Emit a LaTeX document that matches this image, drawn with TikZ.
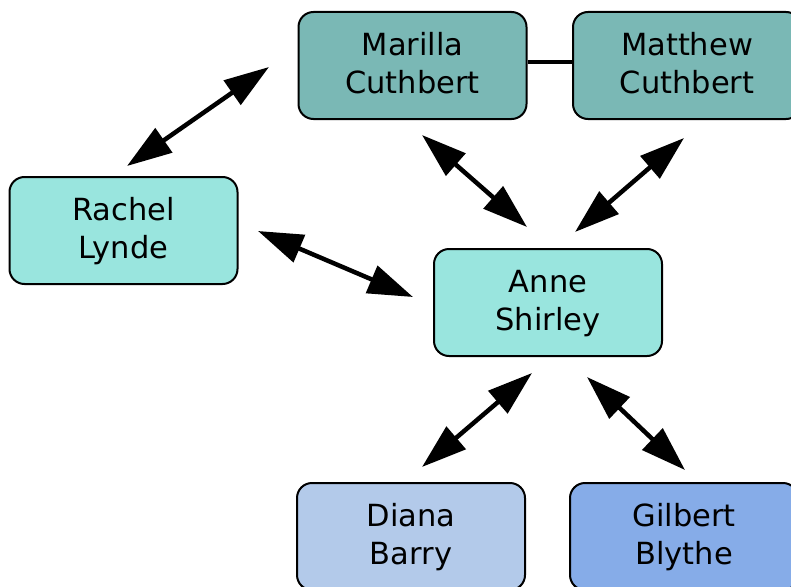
\documentclass[tikz,border=0pt]{standalone}
\usepackage{fontspec}
\setmainfont{DejaVu Sans}
\usetikzlibrary{arrows.meta}
\definecolor{cuthfill}{HTML}{7AB8B5}
\definecolor{annefill}{HTML}{99E5DE}
\definecolor{dianafill}{HTML}{B3CAEA}
\definecolor{gilbfill}{HTML}{86ACE8}
\tikzset{
  person/.style={draw=black, line width=2pt, rounded corners=15pt,
    minimum width=228pt, minimum height=107pt, inner sep=0pt,
    align=center, font=\fontsize{30.5}{37.6}\selectfont,
    text height=60pt, text depth=4.4pt},
  rel/.style={line width=4.5pt,
    {Triangle[length=45pt,width=29pt]}-{Triangle[length=45pt,width=29pt]}},
  tie/.style={line width=3.5pt}
}
\begin{document}
\begin{tikzpicture}[x=1pt,y=-1pt]
\useasboundingbox (0,0) rectangle (791,586);
\clip (0,0) rectangle (791,586);
\node[person, fill=cuthfill] (marilla) at (412.5,65.5) {Marilla\\Cuthbert};
\node[person, fill=cuthfill] (matthew) at (687,65.5) {Matthew\\Cuthbert};
\node[person, fill=annefill] (rachel) at (123.5,230.5) {Rachel\\Lynde};
\node[person, fill=annefill] (anne) at (548,302.5) {Anne\\Shirley};
\node[person, fill=dianafill] (diana) at (411,536.5) {Diana\\Barry};
\node[person, fill=gilbfill] (gilbert) at (684,536.5) {Gilbert\\Blythe};

\draw[tie] ([yshift=3.5pt]marilla.east) -- ([yshift=3.5pt]matthew.west);

\coordinate (rm1) at (127,166);
\coordinate (rm2) at (269,67);
\coordinate (ma1) at (422,135);
\coordinate (ma2) at (527,227);
\coordinate (ta1) at (684,138);
\coordinate (ta2) at (575,232);
\coordinate (ra1) at (258,231);
\coordinate (ra2) at (413,297);
\coordinate (ad1) at (532,373);
\coordinate (ad2) at (422,467);
\coordinate (ag1) at (587,377);
\coordinate (ag2) at (685,470);

\draw[rel] (rm1) -- (rm2);
\draw[rel] (ma1) -- (ma2);
\draw[rel] (ta1) -- (ta2);
\draw[rel] (ra1) -- (ra2);
\draw[rel] (ad1) -- (ad2);
\draw[rel] (ag1) -- (ag2);
\end{tikzpicture}
\end{document}
